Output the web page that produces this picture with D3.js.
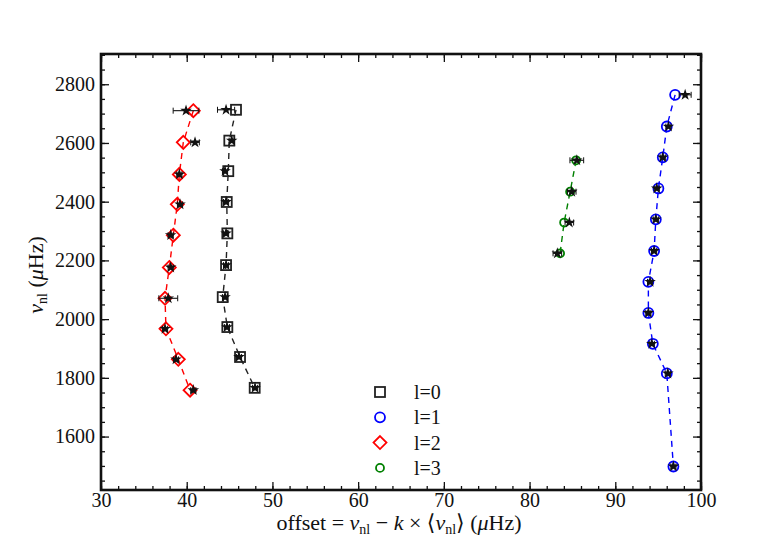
<!DOCTYPE html>
<html>
<head>
<meta charset="utf-8">
<script src="https://cdn.jsdelivr.net/npm/d3@7"></script>
<style>
  body { margin: 0; background: #fff; }
</style>
</head>
<body>
<svg id="chart" width="779" height="545"></svg>
<script>

// frequency of each mode (muHz), per degree l
var freqL0 = [2713, 2608, 2504, 2399, 2292, 2184, 2075, 1973, 1871, 1766]
var freqL1 = [2764, 2656, 2551, 2445, 2340, 2232, 2127, 2021, 1916, 1815, 1498]
var freqL2 = [2710, 2602, 2493, 2391, 2286, 2176, 2071, 1967, 1863, 1758]
var freqL3 = [2541, 2434, 2329, 2224]

// model offset (open markers)
var offsetL0 = [45.75, 44.97, 44.85, 44.67, 44.74, 44.59, 44.2, 44.74, 46.22, 47.93]
var offsetL1 = [96.98, 96.01, 95.54, 95.03, 94.73, 94.53, 93.86, 93.86, 94.38, 96.01, 96.78]
var offsetL2 = [40.77, 39.6, 39.14, 38.9, 38.44, 37.97, 37.47, 37.58, 39.02, 40.39]
var offsetL3 = [85.43, 84.73, 84.03, 83.56]

// observed offset (stars) and its error
var obsL0 = [44.59, 45.25, 44.47, 44.59, 44.59, 44.59, 44.47, 44.7, 46.1, 47.97]
var obsL1 = [98.15, 96.2, 95.54, 94.84, 94.73, 94.53, 94.06, 93.86, 94.26, 96.13, 96.78]
var obsL2 = [39.92, 40.97, 39.14, 39.22, 38.13, 38.13, 37.85, 37.47, 38.75, 40.77]
var obsL3 = [85.51, 84.92, 84.64, 83.24]

var errL0 = [1.0, 0.3, 0.3, 0.3, 0.3, 0.3, 0.3, 0.3, 0.3, 0.3]
var errL1 = [0.7, 0.3, 0.3, 0.3, 0.3, 0.3, 0.3, 0.3, 0.3, 0.3, 0.3]
var errL2 = [1.5, 0.5, 0.3, 0.3, 0.3, 0.3, 1.1, 0.3, 0.3, 0.3]
var errL3 = [0.8, 0.5, 0.5, 0.5]

var xTicks = [30, 40, 50, 60, 70, 80, 90, 100]
var yTicks = [1600, 1800, 2000, 2200, 2400, 2600, 2800]
var legendLabels = ['l=0', 'l=1', 'l=2', 'l=3']

var series = [
    { freq: freqL0, off: offsetL0, obs: obsL0, err: errL0, colour: '#222', shape: 'square' },
    { freq: freqL1, off: offsetL1, obs: obsL1, err: errL1, colour: '#0000ff', shape: 'circle' },
    { freq: freqL2, off: offsetL2, obs: obsL2, err: errL2, colour: '#ff0000', shape: 'diamond' },
    { freq: freqL3, off: offsetL3, obs: obsL3, err: errL3, colour: '#008000', shape: 'small' }
]

var FONT = "'Liberation Serif', 'Times New Roman', Times, 'DejaVu Serif', serif"

var margin = { left: 101, right: 78, top: 54, bottom: 55 }
var width = 779 - margin.left - margin.right
var height = 545 - margin.top - margin.bottom

var svg = d3.select('#chart')
var g = svg.append('g').attr('transform', 'translate(' + margin.left + ',' + margin.top + ')')

var x = d3.scaleLinear().domain([30, 100]).range([0, width])
var y = d3.scaleLinear().domain([1418, 2903]).range([height, 0])

var xMinor = d3.range(30, 100.1, 2)
var yMinor = d3.range(1450, 2901, 50)

function styleAxis(sel) {
    sel.attr('font-family', FONT)
    sel.select('.domain').remove()
    sel.selectAll('line').attr('stroke', '#111').attr('stroke-width', 1.3)
    sel.selectAll('text').attr('font-size', '20px').attr('fill', '#111')
}

// minor ticks, all four sides
g.append('g').attr('transform', 'translate(0,' + height + ')')
    .call(d3.axisBottom(x).tickValues(xMinor).tickFormat('').tickSizeInner(-4).tickSizeOuter(0)).call(styleAxis)
g.append('g')
    .call(d3.axisTop(x).tickValues(xMinor).tickFormat('').tickSizeInner(-4).tickSizeOuter(0)).call(styleAxis)
g.append('g')
    .call(d3.axisLeft(y).tickValues(yMinor).tickFormat('').tickSizeInner(-4).tickSizeOuter(0)).call(styleAxis)
g.append('g').attr('transform', 'translate(' + width + ',0)')
    .call(d3.axisRight(y).tickValues(yMinor).tickFormat('').tickSizeInner(-4).tickSizeOuter(0)).call(styleAxis)

// major ticks
g.append('g').attr('transform', 'translate(0,' + height + ')')
    .call(d3.axisBottom(x).tickValues(xTicks).tickFormat(d3.format('d')).tickSizeInner(-8).tickSizeOuter(0).tickPadding(3))
    .call(styleAxis)
g.append('g')
    .call(d3.axisTop(x).tickValues(xTicks).tickFormat('').tickSizeInner(-8).tickSizeOuter(0)).call(styleAxis)
g.append('g')
    .call(d3.axisLeft(y).tickValues(yTicks).tickFormat(d3.format('d')).tickSizeInner(-8).tickSizeOuter(0).tickPadding(6))
    .call(styleAxis)
g.append('g').attr('transform', 'translate(' + width + ',0)')
    .call(d3.axisRight(y).tickValues(yTicks).tickFormat('').tickSizeInner(-8).tickSizeOuter(0)).call(styleAxis)

// frame
g.append('rect')
    .attr('width', width).attr('height', height)
    .attr('fill', 'none').attr('stroke', '#111').attr('stroke-width', 2.6)

var line = d3.line()
    .x(function (d) { return x(d.off) })
    .y(function (d) { return y(d.freq) })

var star = d3.symbol().type(d3.symbolStar).size(42)

function drawMarker(sel, s) {
    if (s.shape === 'square') {
        sel.append('rect').attr('x', -5).attr('y', -5).attr('width', 10).attr('height', 10)
    } else if (s.shape === 'diamond') {
        sel.append('path').attr('d', 'M0,-6.5L6.5,0L0,6.5L-6.5,0Z')
    } else if (s.shape === 'circle') {
        sel.append('circle').attr('r', 5)
    } else {
        sel.append('circle').attr('r', 4)
    }
    sel.selectAll('*').attr('fill', 'none').attr('stroke', s.colour).attr('stroke-width', 1.8)
}

for (const s of series) {

    var pts = s.freq.map(function (f, i) {
        return { freq: f, off: s.off[i], obs: s.obs[i], err: s.err[i] }
    })

    g.append('path')
        .datum(pts)
        .attr('d', line)
        .attr('fill', 'none')
        .attr('stroke', s.colour)
        .attr('stroke-width', 1.4)
        .attr('stroke-dasharray', '6,5')

    var mk = g.append('g').selectAll('g')
        .data(pts)
        .enter().append('g')
        .attr('transform', function (d) { return 'translate(' + x(d.off) + ',' + y(d.freq) + ')' })
    mk.each(function () { drawMarker(d3.select(this), s) })

    var ob = g.append('g').selectAll('g')
        .data(pts)
        .enter().append('g')
        .attr('transform', function (d) { return 'translate(' + x(d.obs) + ',' + y(d.freq) + ')' })

    ob.append('line')
        .attr('x1', function (d) { return x(d.obs - d.err) - x(d.obs) })
        .attr('x2', function (d) { return x(d.obs + d.err) - x(d.obs) })
        .attr('stroke', '#111').attr('stroke-width', 1.1)
    ob.append('line')
        .attr('x1', function (d) { return x(d.obs - d.err) - x(d.obs) })
        .attr('x2', function (d) { return x(d.obs - d.err) - x(d.obs) })
        .attr('y1', -3).attr('y2', 3)
        .attr('stroke', '#111').attr('stroke-width', 1)
    ob.append('line')
        .attr('x1', function (d) { return x(d.obs + d.err) - x(d.obs) })
        .attr('x2', function (d) { return x(d.obs + d.err) - x(d.obs) })
        .attr('y1', -3).attr('y2', 3)
        .attr('stroke', '#111').attr('stroke-width', 1)
    ob.append('path').attr('d', star).attr('fill', '#111')
}

// legend
var legend = svg.append('g').attr('transform', 'translate(380,392)')
legendLabels.forEach(function (label, i) {
    var row = legend.append('g').attr('transform', 'translate(0,' + (i * 25.3) + ')')
    drawMarker(row.append('g'), series[i])
    row.append('text')
        .attr('x', 34).attr('y', 7)
        .attr('font-size', '20px')
        .text(label)
})

// axis labels
var yl = svg.append('text')
    .attr('transform', 'translate(43,275) rotate(-90)')
    .attr('text-anchor', 'middle')
    .attr('font-size', '22px')
yl.append('tspan').attr('font-style', 'italic').text('ν')
yl.append('tspan').attr('font-size', '14px').attr('dy', 4).text('nl')
yl.append('tspan').attr('dy', -4).text(' (')
yl.append('tspan').attr('font-style', 'italic').text('μ')
yl.append('tspan').text('Hz)')

var xl = svg.append('text')
    .attr('x', 399).attr('y', 530)
    .attr('text-anchor', 'middle')
    .attr('font-size', '22px')
xl.append('tspan').text('offset = ')
xl.append('tspan').attr('font-style', 'italic').text('ν')
xl.append('tspan').attr('font-size', '14px').attr('dy', 4).text('nl')
xl.append('tspan').attr('dy', -4).text(' − ')
xl.append('tspan').attr('font-style', 'italic').text('k')
xl.append('tspan').text(' × ⟨')
xl.append('tspan').attr('font-style', 'italic').text('ν')
xl.append('tspan').attr('font-size', '14px').attr('dy', 4).text('nl')
xl.append('tspan').attr('dy', -4).text('⟩ (')
xl.append('tspan').attr('font-style', 'italic').text('μ')
xl.append('tspan').text('Hz)')

svg.selectAll('text').attr('font-family', FONT).attr('fill', '#111')

</script>
</body>
</html>
